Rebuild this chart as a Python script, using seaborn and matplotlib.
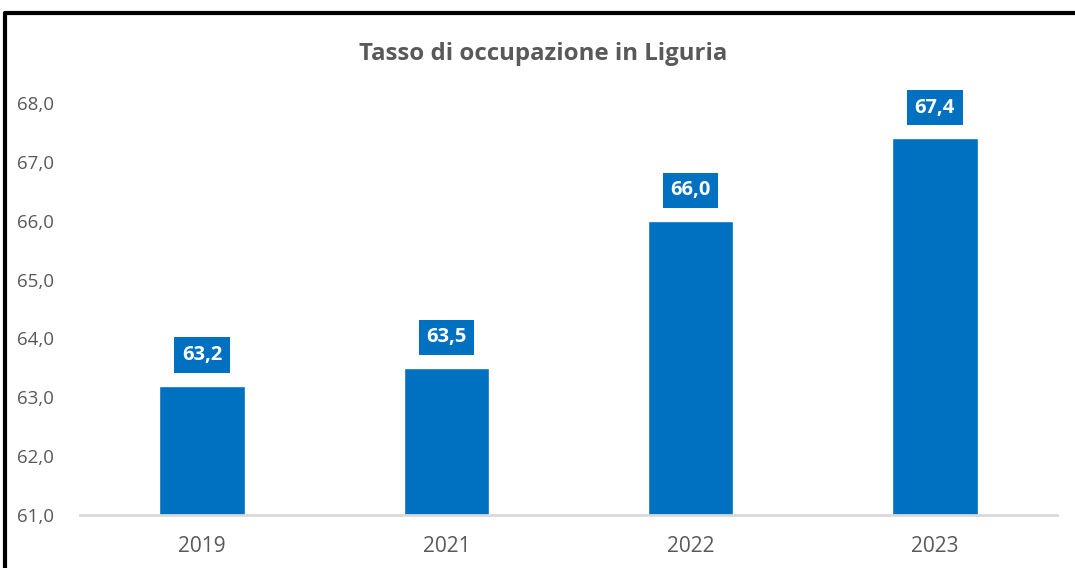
import matplotlib
matplotlib.use("Agg")
import matplotlib.pyplot as plt
import matplotlib.lines as mlines
import pandas as pd
import seaborn as sns

years = ["2019", "2021", "2022", "2023"]
rates = [63.2, 63.5, 66.0, 67.4]
y_ticks = [61.0, 62.0, 63.0, 64.0, 65.0, 66.0, 67.0, 68.0]

BLUE = "#0070C0"
GREY = "#595959"

sns.set_theme(style="white")
plt.rcParams["font.family"] = ["Open Sans", "DejaVu Sans"]

df = pd.DataFrame({"Anno": years, "Tasso": rates})

fig = plt.figure(figsize=(10.75, 5.68), dpi=100)
ax = fig.add_axes([80 / 1075, 1 - 515 / 568, (1057 - 80) / 1075, (515 - 103) / 568])

sns.barplot(data=df, x="Anno", y="Tasso", color=BLUE, width=0.35,
            saturation=1, ax=ax)
ax.set_ylim(61, 68)
ax.set_xlim(-0.5, len(years) - 0.5)
ax.set_yticks(y_ticks)
ax.set_yticklabels([f"{v:.1f}".replace(".", ",") for v in y_ticks])
ax.set_xlabel("")
ax.set_ylabel("")
ax.tick_params(axis="y", colors=GREY, labelsize=13.5, length=0, pad=19)
ax.tick_params(axis="x", colors=GREY, labelsize=15, length=0, pad=15)
for s in ["top", "right", "left"]:
    ax.spines[s].set_visible(False)
ax.spines["bottom"].set_color("#D9D9D9")
ax.spines["bottom"].set_linewidth(2)

# value labels in blue boxes
for i, v in enumerate(rates):
    ax.annotate(f"{v:.1f}".replace(".", ","), xy=(i, v), xytext=(0, 22),
                textcoords="offset points", ha="center", va="center",
                color="white", fontsize=14.5, fontweight="bold",
                bbox=dict(boxstyle="square,pad=0.38", fc=BLUE, ec="none"))

fig.text(543 / 1075, 1 - 54 / 568, "Tasso di occupazione in Liguria",
         ha="center", va="center", fontsize=17.3, fontweight="bold", color=GREY)

# outer frame (top and left edges visible)
fig.add_artist(mlines.Line2D([5 / 1075, 5 / 1075, 1], [0, 1 - 13 / 568, 1 - 13 / 568],
                             transform=fig.transFigure, color="black", lw=3))

fig.savefig("out.png", dpi=100)
